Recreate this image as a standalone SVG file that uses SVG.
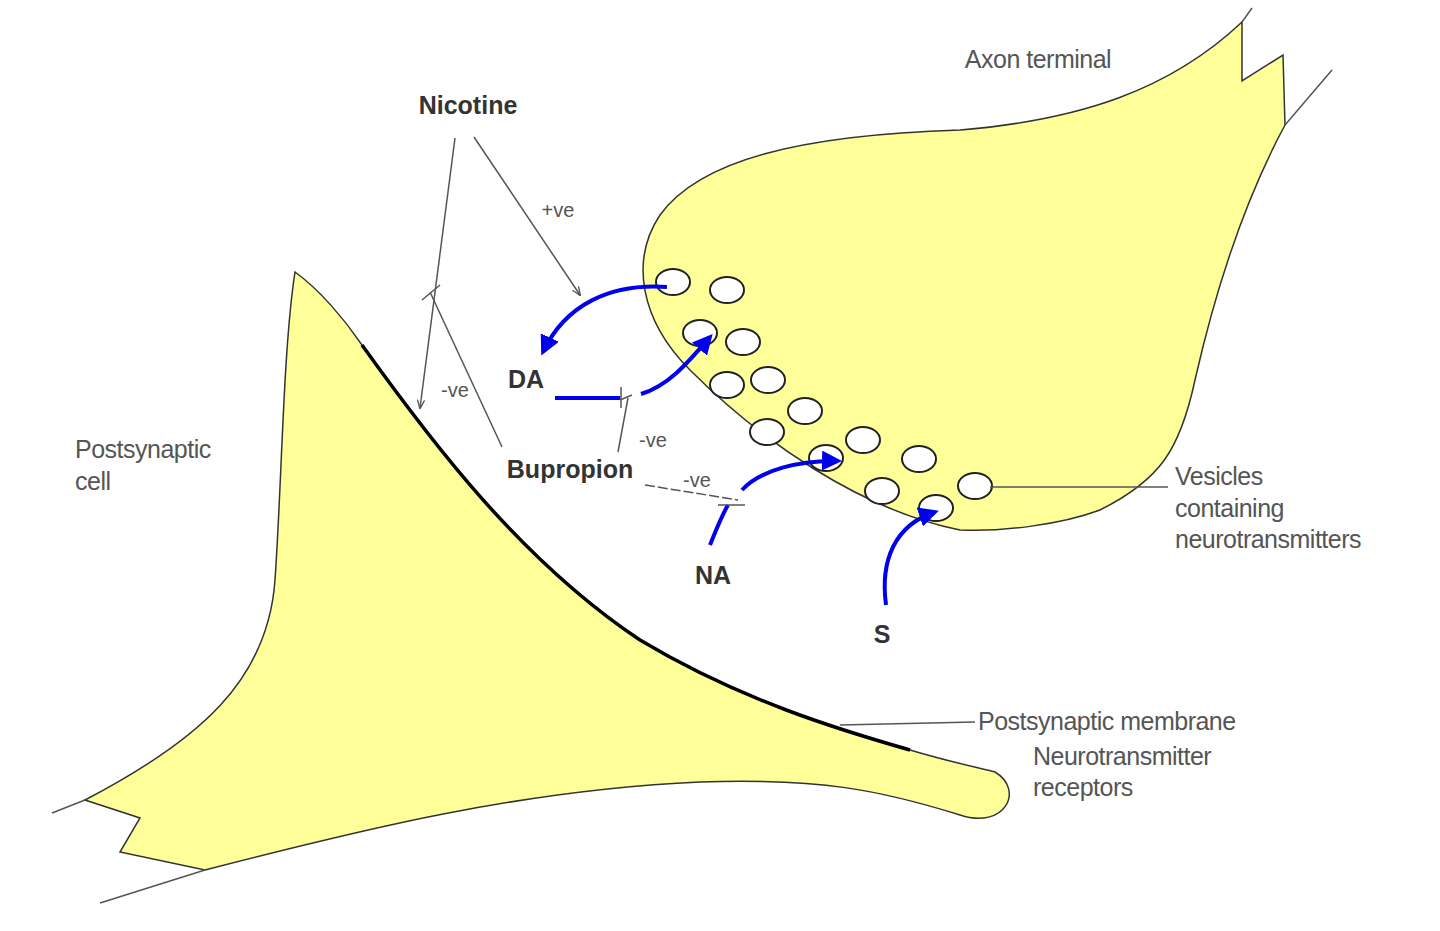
<svg xmlns="http://www.w3.org/2000/svg" width="1440" height="931" viewBox="0 0 1440 931">
<defs>
<style>
.cell{fill:#ffff99;stroke:#333;stroke-width:1.5}
.thin{stroke:#555;stroke-width:1.5;fill:none}
.blue{stroke:#0000ee;stroke-width:4;fill:none}
.ves{fill:#fff;stroke:#222;stroke-width:2}
.t{font-family:"Liberation Sans",Arial,sans-serif;font-size:25px;fill:#555;letter-spacing:-0.5px}
.b{font-family:"Liberation Sans",Arial,sans-serif;font-size:25px;font-weight:bold;fill:#333}
.s{font-family:"Liberation Sans",Arial,sans-serif;font-size:20px;fill:#555}
</style>
<marker id="ba" viewBox="0 0 10 10" refX="8" refY="5" markerWidth="5" markerHeight="5" orient="auto"><path d="M0,0 L10,5 L0,10 z" fill="#0000ee"/></marker>
<marker id="ka" viewBox="0 0 10 10" refX="9" refY="5" markerWidth="6" markerHeight="6" orient="auto"><path d="M0,1 L10,5 L0,9" fill="none" stroke="#555" stroke-width="1.5"/></marker>
</defs>
<g id="postsynaptic-cell">
<path class="cell" d="M295,272 C283,350 282,480 275,580 C268,680 200,740 85,800 L140,818 L120,852 L205,870 C360,830 520,790 700,782 C820,778 880,790 960,815 C1005,830 1025,790 995,772 C980,768 950,762 910,750 C840,730 740,700 640,640 C520,560 430,440 362,345 C345,320 320,290 295,272 Z"/>
<path class="thin" d="M85,800 L52,813 M205,870 L100,903"/>
<path d="M362,345 C430,440 520,560 640,640 C740,700 840,730 910,750" stroke="#000" stroke-width="3.5" fill="none"/>
</g>
<g id="axon-terminal">
<path class="cell" d="M1242,22 L1242,81 L1283,55 L1285,125 C1250,190 1220,270 1195,380 C1180,450 1160,480 1100,510 C1060,525 1000,532 960,530 C860,510 760,440 690,370 C640,320 630,260 660,215 C700,160 800,135 960,130 C1080,120 1170,90 1242,22 Z"/>
<path class="thin" d="M1242,22 L1252,8 M1285,125 L1332,70"/>
</g>
<g id="vesicles">
<ellipse class="ves" cx="673" cy="282" rx="17" ry="13"/>
<ellipse class="ves" cx="727" cy="290" rx="17" ry="13"/>
<ellipse class="ves" cx="700" cy="333" rx="17" ry="13"/>
<ellipse class="ves" cx="743" cy="342" rx="17" ry="13"/>
<ellipse class="ves" cx="727" cy="385" rx="17" ry="13"/>
<ellipse class="ves" cx="768" cy="380" rx="17" ry="13"/>
<ellipse class="ves" cx="805" cy="411" rx="17" ry="13"/>
<ellipse class="ves" cx="767" cy="432" rx="17" ry="13"/>
<ellipse class="ves" cx="863" cy="440" rx="17" ry="13"/>
<ellipse class="ves" cx="826" cy="458" rx="17" ry="13"/>
<ellipse class="ves" cx="919" cy="459" rx="17" ry="13"/>
<ellipse class="ves" cx="882" cy="491" rx="17" ry="13"/>
<ellipse class="ves" cx="975" cy="486" rx="17" ry="13"/>
<ellipse class="ves" cx="936" cy="508" rx="17" ry="13"/>
</g>
<g id="connectors">
<path class="blue" marker-end="url(#ba)" d="M667,287 C610,283 565,305 543,352"/>
<path class="blue" d="M555,398 L620,398"/>
<path class="thin" d="M621,387 L621,408"/>
<path class="blue" marker-end="url(#ba)" d="M641,394 C670,385 690,360 710,337"/>
<path class="blue" d="M710,545 C716,530 722,515 728,505"/>
<path class="thin" d="M718,505 L745,505"/>
<path class="blue" marker-end="url(#ba)" d="M742,490 C760,470 800,460 838,461"/>
<path class="blue" marker-end="url(#ba)" d="M886,605 C880,560 895,525 935,512"/>
<path class="thin" marker-end="url(#ka)" d="M455,138 L420,408"/>
<path class="thin" marker-end="url(#ka)" d="M474,137 L580,295"/>
<path class="thin" d="M502,447 L430,292 M422,300 L440,285"/>
<path class="thin" d="M618,452 L628,398 M620,400 L632,395"/>
<path class="thin" stroke-dasharray="10,3" d="M645,485 L738,500"/>
<path class="thin" d="M990,487 L1168,487"/>
<path class="thin" d="M840,725 L975,722"/>
</g>
<g id="labels">
<text class="b" x="468" y="114" text-anchor="middle">Nicotine</text>
<text class="s" x="558" y="217" text-anchor="middle">+ve</text>
<text class="s" x="455" y="397" text-anchor="middle">-ve</text>
<text class="b" x="526" y="388" text-anchor="middle">DA</text>
<text class="s" x="653" y="447" text-anchor="middle">-ve</text>
<text class="b" x="570" y="478" text-anchor="middle">Bupropion</text>
<text class="s" x="697" y="487" text-anchor="middle">-ve</text>
<text class="b" x="713" y="584" text-anchor="middle">NA</text>
<text class="b" x="882" y="643" text-anchor="middle">S</text>
<text class="t" x="1038" y="68" text-anchor="middle">Axon terminal</text>
<text class="t" x="75" y="458">Postsynaptic</text>
<text class="t" x="75" y="490">cell</text>
<text class="t" x="1175" y="485">Vesicles</text>
<text class="t" x="1175" y="517">containing</text>
<text class="t" x="1175" y="548">neurotransmitters</text>
<text class="t" x="978" y="730">Postsynaptic membrane</text>
<text class="t" x="1033" y="765">Neurotransmitter</text>
<text class="t" x="1033" y="796">receptors</text>
</g>
</svg>
